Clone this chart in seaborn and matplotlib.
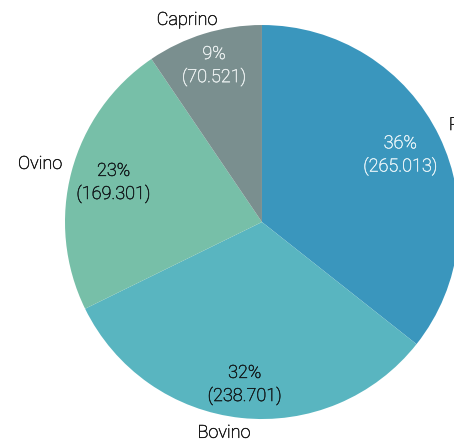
import matplotlib
matplotlib.use("Agg")
import matplotlib.pyplot as plt
import matplotlib.patheffects as pe
import seaborn as sns
import numpy as np

categories = ["Porcino", "Bovino", "Ovino", "Caprino"]
values = [265.013, 238.701, 169.301, 70.521]
value_labels = ["265.013", "238.701", "169.301", "70.521"]
colors = ["#3a96bd", "#59b5c0", "#77bfa8", "#7a8f8f"]
pct_colors = ["#e4f2f7", "#141c1e", "#141c1e", "#e8eeee"]

sns.set_theme(style="white")
plt.rcParams["font.family"] = ["Roboto", "DejaVu Sans"]

fig = plt.figure(figsize=(4.54, 4.47), dpi=100)
ax = fig.add_axes([0, 0, 1, 1])

pct_iter = iter(range(len(values)))

def fmt(p):
    i = next(pct_iter)
    return f"{p:.0f}%\n({value_labels[i]})"

wedges, texts, autotexts = ax.pie(
    values, labels=categories, colors=colors, startangle=90, counterclock=False,
    autopct=fmt, pctdistance=0.8, labeldistance=1.08,
    textprops=dict(fontsize=13, fontweight="light"),
    wedgeprops=dict(linewidth=0),
)

def thicken(t, c):
    t.set_path_effects([pe.withStroke(linewidth=0.35, foreground=c)])

pct_dist = [0.78, 0.83, 0.78, 0.83]
for w, t, c, d in zip(wedges, autotexts, pct_colors, pct_dist):
    ang = np.deg2rad((w.theta1 + w.theta2) / 2)
    t.set_position((d * np.cos(ang), d * np.sin(ang)))
    t.set_color(c)
    t.set_linespacing(1.3)
    thicken(t, c)

label_pos = [(0.949, 0.492, "left"), (-0.193, -1.070, "center"),
             (-1.015, 0.295, "right"), (-0.381, 1.026, "center")]
for t, (x, y, ha) in zip(texts, label_pos):
    t.set_position((x, y))
    t.set_ha(ha)
    t.set_va("center")
    t.set_color("#1a1a1a")
    thicken(t, "#1a1a1a")

ax.set_aspect("auto")
ax.set_xlim(-1.330, 0.975)
ax.set_ylim(-1.142, 1.127)
ax.axis("off")
fig.savefig("out.png", dpi=100)
